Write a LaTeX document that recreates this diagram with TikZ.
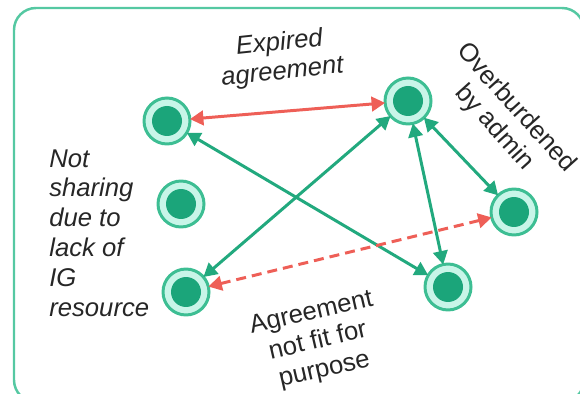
\documentclass[tikz,border=0pt]{standalone}
\usepackage{fontspec}
\setmainfont{Liberation Sans}
\usetikzlibrary{arrows.meta}

\definecolor{frameGreen}{HTML}{55C8A2}
\definecolor{ringGreen}{HTML}{3DBE93}
\definecolor{ringLight}{HTML}{C8F5E8}
\definecolor{dotGreen}{HTML}{1BA57A}
\definecolor{linkGreen}{HTML}{22A97E}
\definecolor{linkRed}{HTML}{EE5F57}
\definecolor{labelGray}{HTML}{262626}

\tikzset{
  member/.style={circle, draw=ringGreen, line width=1.7pt, fill=ringLight,
    minimum size=0.92cm, inner sep=0pt, outer sep=0pt,
    path picture={\fill[dotGreen] (path picture bounding box.center) circle (0.3cm);}},
  link/.style={draw=linkGreen, line width=1.7pt,
    {Triangle[length=0.27cm,width=0.29cm]}-{Triangle[length=0.27cm,width=0.29cm]}},
  badlink/.style={link, draw=linkRed},
  note/.style={text=labelGray, font=\fontsize{14.6}{16.6}\selectfont, align=center, inner sep=0pt}
}

\begin{document}
\begin{tikzpicture}[x=0.02cm, y=-0.02cm]
    % Fix the page size
    \useasboundingbox (0,0) rectangle (580,394);
    \clip (0,0) rectangle (580,394);

    % Draw the frame
    \draw[frameGreen, line width=1.4pt, rounded corners=0.44cm] (14,8) rectangle (584,402);

    % Place the members
    \node[member] (expA) at (167,121) {};
    \node[member] (expB) at (408,101) {};
    \node[member] (idle) at (181,204) {};
    \node[member] (fitD) at (186,292) {};
    \node[member] (fitE) at (448,287) {};
    \node[member] (admF) at (514,212) {};

    % Draw the links
    \draw[badlink] (expA) -- (expB);
    \draw[link] (expB) -- (fitD);
    \draw[link] (expA) -- (fitE);
    \draw[link] (expB) -- (fitE);
    \draw[link] (expB) -- (admF);
    \draw[badlink, dash pattern=on 0.2cm off 0.12cm] (fitD) -- (admF);

    % Label the links
    \node[note, rotate=6] (expired) at (281,58) {\itshape Expired\\\itshape agreement};
    \node[note, rotate=-48] (admin) at (505,118) {Overburdened\\by admin};
    \node[note, rotate=13] (notfit) at (318,342) {Agreement\\not fit for\\purpose};
    \node[note, align=left, anchor=west, font=\fontsize{14.6}{17}\selectfont\itshape] (noshare) at (49,233)
      {Not\\sharing\\due to\\lack of\\IG\\resource};
\end{tikzpicture}
\end{document}
